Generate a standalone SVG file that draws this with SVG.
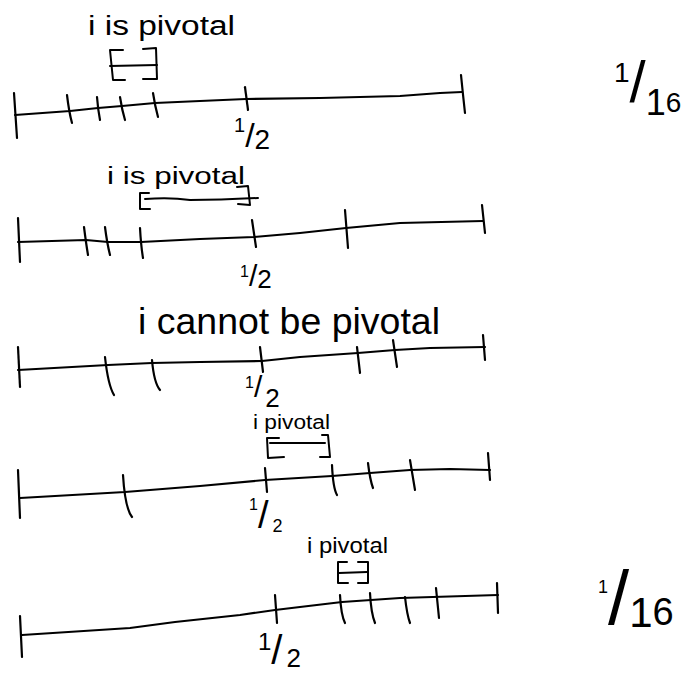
<svg xmlns="http://www.w3.org/2000/svg" width="684" height="673" viewBox="0 0 684 673">
<style>
.ln{fill:none;stroke:#000;stroke-width:2.2;stroke-linecap:round;stroke-linejoin:round}
.br{fill:none;stroke:#000;stroke-width:2;stroke-linecap:round;stroke-linejoin:round}
.t{font-family:"Liberation Sans",Arial,sans-serif;fill:#000}
</style>
<rect width="684" height="673" fill="#fff"/>
<g id="connectors">
<g id="line1">
<path class="ln" d="M15,115 L70,111 L98,108 L122,106 L155,103 L200,101 L246,99 L320,98 L400,96 L440,93 L462,92"/>
<path class="ln" d="M14,93 L17,138"/>
<path class="ln" d="M67,95 Q69,112 72,123"/>
<path class="ln" d="M97,97 Q98,110 100,120"/>
<path class="ln" d="M120,97 Q122,110 125,120"/>
<path class="ln" d="M153,93 Q155,106 158,117"/>
<path class="ln" d="M245,87 L248,110"/>
<path class="ln" d="M461,75 Q463,95 465,113"/>
</g>
<g id="line2">
<path class="ln" d="M18,242 L86,240 L108,242 L141,242 L200,239 L254,237 L300,233 L346,228 L400,223 L483,221"/>
<path class="ln" d="M18,218 L20,262"/>
<path class="ln" d="M84,227 Q86,243 88,255"/>
<path class="ln" d="M105,227 Q107,243 110,255"/>
<path class="ln" d="M140,228 Q141,246 143,258"/>
<path class="ln" d="M252,220 L256,247"/>
<path class="ln" d="M345,210 L348,248"/>
<path class="ln" d="M482,205 L485,233"/>
</g>
<g id="line3">
<path class="ln" d="M18,370 L108,365 L152,363 L200,362 L262,361 L300,357 L358,353 L395,350 L430,348 L485,347"/>
<path class="ln" d="M18,347 L20,387"/>
<path class="ln" d="M105,357 Q108,385 114,395"/>
<path class="ln" d="M152,360 Q154,383 160,390"/>
<path class="ln" d="M260,347 L263,372"/>
<path class="ln" d="M357,347 L360,373"/>
<path class="ln" d="M393,340 L397,367"/>
<path class="ln" d="M483,335 L485,360"/>
</g>
<g id="line4">
<path class="ln" d="M20,498 L125,492 L200,486 L265,480 L332,476 L370,473 L410,470 L450,469 L490,470"/>
<path class="ln" d="M18,470 L20,518"/>
<path class="ln" d="M123,475 Q125,508 132,517"/>
<path class="ln" d="M265,468 L267,492"/>
<path class="ln" d="M332,465 Q333,488 337,495"/>
<path class="ln" d="M368,463 Q370,480 373,488"/>
<path class="ln" d="M410,460 L415,490"/>
<path class="ln" d="M488,453 L490,480"/>
</g>
<g id="line5">
<path class="ln" d="M22,635 L130,628 L175,622 L240,615 L275,610 L300,607 L342,602 L400,598 L498,595"/>
<path class="ln" d="M20,616 L22,657"/>
<path class="ln" d="M275,595 L277,623"/>
<path class="ln" d="M340,595 Q341,615 345,623"/>
<path class="ln" d="M370,593 Q371,613 375,623"/>
<path class="ln" d="M405,597 Q407,615 410,623"/>
<path class="ln" d="M436,588 L439,618"/>
<path class="ln" d="M497,583 L498,613"/>
</g>
</g>
<g id="bracket1">
<path class="br" d="M123,50 L110,50 L113,80 L125,80"/>
<path class="br" d="M143,49 L156,48 L157,79 L143,79"/>
<path class="br" d="M110,66 L157,65"/>
</g>
<g id="bracket2">
<path class="br" d="M149,193 L140,193 L140,209 L150,209"/>
<path class="br" d="M237,187 L248,186 L250,205 L238,204"/>
<path class="br" d="M145,199 Q170,197 190,200 Q220,200 258,198"/>
</g>
<g id="bracket4">
<path class="br" d="M279,438 L267,438 L268,458 L284,457"/>
<path class="br" d="M322,435 L328,435 L330,457 L320,457"/>
<path class="br" d="M270,443 L325,443"/>
</g>
<g id="bracket5">
<path class="br" d="M347,562 L338,562 L338,583 L348,583"/>
<path class="br" d="M358,562 L368,562 L368,583 L358,583"/>
<path class="br" d="M339,573 L367,572"/>
</g>
<g id="label1"><text class="t" x="88" y="35" font-size="27" textLength="147" lengthAdjust="spacingAndGlyphs">i is pivotal</text></g>
<g id="label2"><text class="t" x="107" y="184" font-size="23" textLength="138" lengthAdjust="spacingAndGlyphs">i is pivotal</text></g>
<g id="label3"><text class="t" x="138" y="334" font-size="36" textLength="302" lengthAdjust="spacingAndGlyphs">i cannot be pivotal</text></g>
<g id="label4"><text class="t" x="253" y="429" font-size="20" textLength="77" lengthAdjust="spacingAndGlyphs">i pivotal</text></g>
<g id="label5"><text class="t" x="307" y="553" font-size="22" textLength="81" lengthAdjust="spacingAndGlyphs">i pivotal</text></g>
<g id="half1"><text class="t" x="234" y="132" font-size="20">1<tspan y="147" font-size="34">/</tspan><tspan y="149" font-size="28">2</tspan></text></g>
<g id="half2"><text class="t" x="240" y="277" font-size="16">1<tspan y="286" font-size="30">/</tspan><tspan y="288" font-size="26">2</tspan></text></g>
<g id="half3"><text class="t" x="245" y="388" font-size="16">1<tspan y="397" font-size="30">/</tspan><tspan dx="3" y="407" font-size="26">2</tspan></text></g>
<g id="half4"><text class="t" x="249" y="510" font-size="16">1<tspan y="528" font-size="38">/</tspan><tspan dx="4" y="532" font-size="18">2</tspan></text></g>
<g id="half5"><text class="t" x="258" y="650" font-size="24">1<tspan y="664" font-size="40">/</tspan><tspan dx="4" y="667" font-size="26">2</tspan></text></g>
<g id="frac-top"><text class="t" x="614" y="82" font-size="28">1<tspan y="102" font-size="58">/</tspan><tspan y="115" font-size="36">1</tspan><tspan y="112" font-size="28">6</tspan></text></g>
<g id="frac-bottom"><text class="t" x="598" y="593" font-size="18">1<tspan y="624" font-size="76">/</tspan><tspan y="627" font-size="42">1</tspan><tspan y="625" font-size="38">6</tspan></text></g>
</svg>
